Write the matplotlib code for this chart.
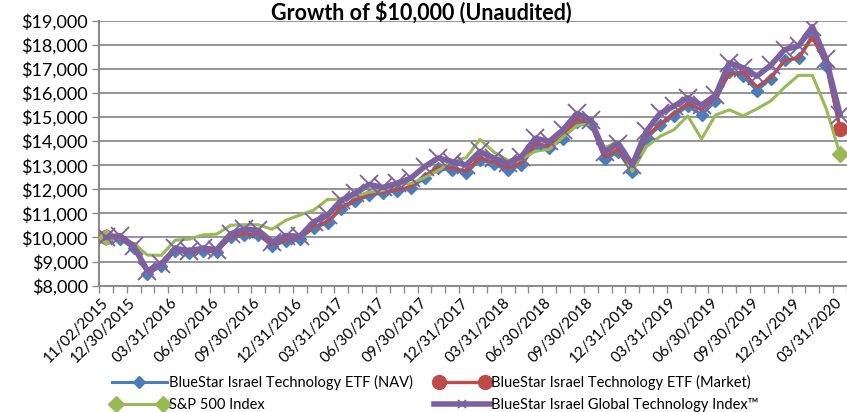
import matplotlib
matplotlib.use('Agg')
import matplotlib.pyplot as plt
from matplotlib.lines import Line2D
from matplotlib.legend_handler import HandlerLine2D
from matplotlib.ticker import FuncFormatter

plt.rcParams['font.family'] = ['Lato', 'DejaVu Sans']

dates = ['11/02/2015', '11/30/2015', '12/30/2015',
         '01/31/2016', '02/29/2016', '03/31/2016', '04/30/2016', '05/31/2016', '06/30/2016',
         '07/31/2016', '08/31/2016', '09/30/2016', '10/31/2016', '11/30/2016', '12/31/2016',
         '01/31/2017', '02/28/2017', '03/31/2017', '04/30/2017', '05/31/2017', '06/30/2017',
         '07/31/2017', '08/31/2017', '09/30/2017', '10/31/2017', '11/30/2017', '12/31/2017',
         '01/31/2018', '02/28/2018', '03/31/2018', '04/30/2018', '05/31/2018', '06/30/2018',
         '07/31/2018', '08/31/2018', '09/30/2018', '10/31/2018', '11/30/2018', '12/31/2018',
         '01/31/2019', '02/28/2019', '03/31/2019', '04/30/2019', '05/31/2019', '06/30/2019',
         '07/31/2019', '08/31/2019', '09/30/2019', '10/31/2019', '11/30/2019', '12/31/2019',
         '01/31/2020', '02/29/2020', '03/31/2020']

nav = [10000, 9950, 9550, 8500, 8800, 9450, 9350, 9450, 9400, 10000, 10100, 10100,
       9650, 9850, 9950, 10400, 10600, 11200, 11500, 11750, 11850, 11930, 12040, 12480,
       12870, 12800, 12670, 13220, 13040, 12800, 13000, 13800, 13700, 14100, 14800, 14700,
       13250, 13550, 12700, 14100, 14650, 15050, 15450, 15100, 15650, 16850, 16700, 16100,
       16600, 17350, 17450, 18400, 17100, 14500]

market = [10000, 9970, 9580, 8550, 8830, 9480, 9380, 9480, 9420, 10030, 10150, 10150,
          9700, 9900, 10000, 10450, 10650, 11250, 11550, 11800, 11880, 11980, 12100, 12550,
          12930, 12880, 12750, 13300, 13120, 12880, 13100, 13900, 13800, 14200, 14900, 14750,
          13350, 13650, 12800, 14200, 14700, 15150, 15550, 15300, 15800, 16800, 16850, 16250,
          16650, 17350, 17450, 18300, 17250, 14500]

sp500 = [10000, 9990, 9750, 9270, 9260, 9890, 9930, 10110, 10140, 10510, 10530, 10530,
         10340, 10720, 10930, 11140, 11580, 11590, 11710, 11880, 11950, 12200, 12240, 12490,
         12780, 13170, 13310, 14070, 13550, 13210, 13260, 13580, 13660, 14170, 14640, 14720,
         13720, 14000, 12740, 13760, 14200, 14470, 15050, 14090, 15080, 15300, 15050, 15340,
         15670, 16240, 16730, 16730, 15350, 13450]

index = [10000, 10080, 9650, 8620, 8900, 9550, 9450, 9550, 9500, 10150, 10350, 10300,
         9820, 10080, 10050, 10650, 10930, 11550, 11840, 12200, 12080, 12250, 12460, 12940,
         13300, 13150, 13010, 13570, 13300, 13080, 13360, 14120, 13990, 14470, 15150, 14880,
         13560, 13900, 13010, 14400, 15150, 15450, 15800, 15500, 15900, 17250, 17050, 16700,
         17150, 17800, 17950, 18750, 17400, 15100]

names = ['BlueStar Israel Technology ETF (NAV)',
         'BlueStar Israel Technology ETF (Market)',
         'S&P 500 Index',
         'BlueStar Israel Global Technology Index\u2122']

c_nav, c_mkt, c_sp, c_idx = '#4A7EBB', '#BE4B48', '#98B954', '#7D60A0'

fig = plt.figure(figsize=(8.47, 4.12), dpi=100)
ax = fig.add_axes([0.1169, 0.3066, 0.8831, 0.6432])

x = list(range(len(dates)))
last = len(dates) - 1
ax.plot(x, nav, color=c_nav, lw=2.2, marker='D', ms=6, zorder=3)
ax.plot(x, market, color=c_mkt, lw=2.4, marker='o', ms=10, markevery=[0, last], zorder=4)
ax.plot(x, sp500, color=c_sp, lw=2.2, marker='D', ms=8, markevery=[0, last], zorder=5)
ax.plot(x, index, color=c_idx, lw=4, marker='x', ms=13, mew=1.3, zorder=6)

ax.set_xlim(-0.5, last + 0.5)
ax.set_ylim(8000, 19000)
ax.set_yticks(range(8000, 19001, 1000))
ax.yaxis.set_major_formatter(FuncFormatter(lambda v, p: '${:,.0f}'.format(v)))
ax.grid(axis='y', color='#8C8C8C', lw=1.3, zorder=0)
ax.set_axisbelow(True)

shown = [0] + list(range(2, len(dates), 3))
ax.set_xticks([i - 0.5 for i in range(len(dates) + 1)], minor=True)
ax.set_xticks(shown)
ax.set_xticklabels([dates[i] for i in shown], rotation=45, ha='right', va='center',
                   rotation_mode='anchor', fontsize=11)
ax.tick_params(axis='x', which='major', length=0, pad=11)
ax.tick_params(axis='x', which='minor', length=5, width=1, color='#8C8C8C', direction='out')
ax.tick_params(axis='y', length=5, width=1, color='#8C8C8C', labelsize=13, pad=3)

for s in ['top', 'right']:
    ax.spines[s].set_visible(False)
for s in ['left', 'bottom']:
    ax.spines[s].set_color('#8C8C8C')
    ax.spines[s].set_linewidth(1.5)

fig.text(0.498, 0.999, 'Growth of $10,000 (Unaudited)', ha='center', va='top',
         fontsize=15.5, fontweight='bold')

h_nav = Line2D([], [], color=c_nav, lw=2.2, marker='D', ms=6)
h_mkt = Line2D([], [], color=c_mkt, lw=2.4, marker='o', ms=10)
h_sp = Line2D([], [], color=c_sp, lw=2.2, marker='D', ms=8)
h_idx = Line2D([], [], color=c_idx, lw=4, marker='x', ms=6, mew=1.3)
hmap = {h_nav: HandlerLine2D(numpoints=1), h_mkt: HandlerLine2D(numpoints=2),
        h_sp: HandlerLine2D(numpoints=2), h_idx: HandlerLine2D(numpoints=1)}
# legend fills column-wise, so order as nav, s&p | market, index
fig.legend([h_nav, h_sp, h_mkt, h_idx], [names[0], names[2], names[1], names[3]],
           handler_map=hmap, ncol=2, frameon=False, fontsize=10.5,
           loc='upper left', bbox_to_anchor=(0.125, 0.105), handlelength=3.8,
           handletextpad=0.1, columnspacing=1.5, labelspacing=0.6, borderaxespad=0)

fig.savefig('out.png', dpi=100)
